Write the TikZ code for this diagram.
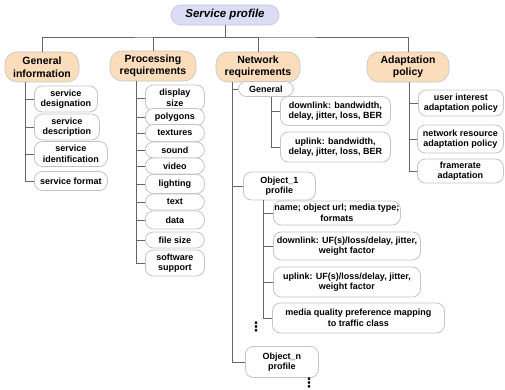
\documentclass[tikz,border=0pt]{standalone}
\usepackage{fontspec}
\setmainfont{Liberation Sans}
\newfontfamily\dejavu{DejaVu Sans}
\definecolor{titlefill}{HTML}{DCDCF6}
\definecolor{headfill}{HTML}{FBDDBC}
\definecolor{linecol}{HTML}{666666}
\definecolor{boxline}{HTML}{C4C4C4}
\begin{document}
\begin{tikzpicture}[x=1pt,y=-1pt,
  conn/.style={draw=linecol, line width=0.8pt},
  leaf/.style={draw=boxline, line width=0.8pt, fill=white, rounded corners=8pt, align=center,
    inner sep=1pt, anchor=west, font=\bfseries\fontsize{9}{10.5}\selectfont},
  head/.style={draw=boxline, line width=0.6pt, fill=headfill, rounded corners=12pt, align=center,
    inner sep=1pt, minimum height=30pt, font=\bfseries\fontsize{10.5}{12.5}\selectfont},
  titlebox/.style={draw=boxline, line width=0.6pt, fill=titlefill, rounded corners=10pt, align=center,
    inner sep=1pt, minimum width=108pt, minimum height=20pt, font=\bfseries\itshape\fontsize{11.5}{13}\selectfont},
  dotsnode/.style={inner sep=0pt, font=\dejavu\bfseries\fontsize{13}{13}\selectfont}
]
\useasboundingbox (0,0) rectangle (505,390);

% title and headers
\node[titlebox] (sp) at (225,15) {Service profile};
\node[head, minimum width=74pt] (gi) at (42,67) {General\\information};
\node[head, minimum width=86pt] (pr) at (153,66) {Processing\\requirements};
\node[head, minimum width=84pt] (nr) at (258,67) {Network\\requirements};
\node[head, minimum width=82pt] (ap) at (408,67) {Adaptation\\policy};

\coordinate (hb) at (225,37);
\draw[conn] (sp.south) -- (hb);
\draw[conn] (gi.north) |- (hb) -| (ap.north);
\draw[conn] (hb) -| (pr.north);
\draw[conn] (hb) -| (nr.north);

% General information
\node[leaf, minimum width=63pt, minimum height=26pt] (sd) at (34,99) {service\\designation};
\node[leaf, minimum width=65pt, minimum height=26pt] (sdc) at (34,127) {service\\description};
\node[leaf, minimum width=73pt, minimum height=25pt] (sid) at (34,154) {service\\identification};
\node[leaf, minimum width=73pt, minimum height=19pt] (sf) at (34,181) {service format};
\path (gi.south) ++(-17,0) coordinate (git);
\foreach \c in {sd,sdc,sid,sf} \draw[conn] (git) |- (\c.west);

% Processing requirements
\node[leaf, minimum width=59pt, minimum height=26pt] (ds) at (145,98) {display\\size};
\node[leaf, minimum width=59pt, minimum height=17pt] (pg) at (145,117) {polygons};
\node[leaf, minimum width=59pt, minimum height=17pt] (tx) at (145,133) {textures};
\node[leaf, minimum width=59pt, minimum height=16pt] (so) at (145,150) {sound};
\node[leaf, minimum width=59pt, minimum height=16pt] (vi) at (145,166) {video};
\node[leaf, minimum width=59pt, minimum height=19pt] (li) at (145,184) {lighting};
\node[leaf, minimum width=59pt, minimum height=16pt] (te) at (145,202) {text};
\node[leaf, minimum width=59pt, minimum height=18pt] (da) at (145,220) {data};
\node[leaf, minimum width=59pt, minimum height=16pt] (fs) at (145,240) {file size};
\node[leaf, minimum width=59pt, minimum height=26pt] (ss) at (145,263) {software\\support};
\path (pr.south) ++(-17,0) coordinate (prt);
\foreach \c in {ds,pg,tx,so,vi,li,te,da,fs,ss} \draw[conn] (prt) |- (\c.west);

% Network requirements
\node[leaf, minimum width=55pt, minimum height=15pt] (gen) at (238,89) {General};
\node[leaf, minimum width=110pt, minimum height=29pt] (dl) at (280,111) {downlink: bandwidth,\\delay, jitter, loss, BER};
\node[leaf, minimum width=110pt, minimum height=30pt] (ul) at (280,147) {uplink: bandwidth,\\delay, jitter, loss, BER};
\node[leaf, minimum width=72pt, minimum height=28pt] (oa) at (243,186) {Object\_1\\profile};
\node[leaf, minimum width=95pt, minimum height=24pt] (nm) at (273,213) {name; object url; media type;\\formats};
\node[leaf, minimum width=147pt, minimum height=28pt] (dla) at (273,246) {downlink: UF(s)/loss/delay, jitter,\\weight factor};
\node[leaf, minimum width=147pt, minimum height=30pt] (ula) at (273,282) {uplink: UF(s)/loss/delay, jitter,\\weight factor};
\node[leaf, minimum width=172pt, minimum height=30pt] (mq) at (272,318) {media quality preference mapping\\to traffic class};
\node[leaf, minimum width=73pt, minimum height=31pt] (on) at (245,362) {Object\_n\\profile};
\node[dotsnode] (d1) at (256,326.5) {⋮};
\node[dotsnode] (d2) at (309,382.5) {⋮};

\path (nr.south) ++(-26,0) coordinate (nrt);
\foreach \c in {gen,oa,on} \draw[conn] (nrt) |- (\c.west);
\path (gen.south) ++(5,0) coordinate (gent);
\foreach \c in {dl,ul} \draw[conn] (gent) |- (\c.west);
\path (oa.south) ++(-16,0) coordinate (oat);
\foreach \c in {nm,dla,ula,mq} \draw[conn] (oat) |- (\c.west);

% Adaptation policy
\node[leaf, minimum width=85pt, minimum height=26pt] (ui) at (418,103) {user interest\\adaptation policy};
\node[leaf, minimum width=86pt, minimum height=28pt] (nra) at (417,139) {network resource\\adaptation policy};
\node[leaf, minimum width=86pt, minimum height=24pt] (fa) at (417,171) {framerate\\adaptation};
\path (ap.south) ++(1,0) coordinate (apt);
\foreach \c in {ui,nra,fa} \draw[conn] (apt) |- (\c.west);
\end{tikzpicture}
\end{document}
